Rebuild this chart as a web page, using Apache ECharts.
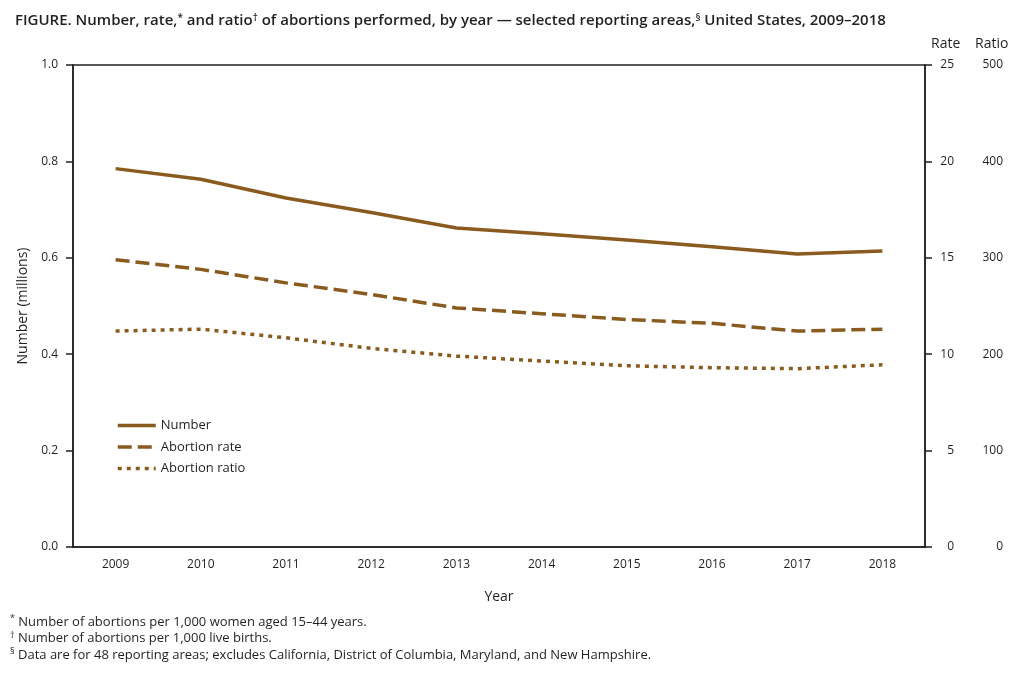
<!DOCTYPE html>
<html>
<head>
<meta charset="utf-8">
<script src="https://cdn.jsdelivr.net/npm/echarts@6/dist/echarts.min.js"></script>
<style>
  html, body { margin: 0; padding: 0; background: #fff; }
  #chart { width: 1024px; height: 678px; }
</style>
</head>
<body>
<div id="chart"></div>
<script>
const years = ["2009", "2010", "2011", "2012", "2013", "2014", "2015", "2016", "2017", "2018"];
// number of abortions, millions
const numberVals = [0.785, 0.763, 0.724, 0.694, 0.662, 0.650, 0.637, 0.623, 0.608, 0.614];
// abortions per 1,000 women aged 15-44
const rateVals = [14.9, 14.4, 13.7, 13.1, 12.4, 12.1, 11.8, 11.6, 11.2, 11.3];
// abortions per 1,000 live births
const ratioVals = [224, 226, 217, 206, 198, 193, 188, 186, 185, 189];

const leftTicks = { min: 0, max: 1.0, interval: 0.2 };
const rateTicks = { min: 0, max: 25, interval: 5 };
const ratioTicks = { min: 0, max: 500, interval: 100 };

const brown = "#8a5b1f";
const ink = "#231f20";
const font = "Open Sans";

const chart = echarts.init(document.getElementById("chart"));

const option = {
  backgroundColor: "#fff",
  textStyle: { fontFamily: font, color: ink },
  animation: false,
  title: {
    left: 10,
    top: 1,
    text: "{b|FIGURE. Number, rate,}{s|*}{b| and ratio}{s|†}{b| of abortions performed, by year — selected reporting areas,}{s|§}{b| United States, 2009–2018}",
    textStyle: {
      rich: {
        b: { fontFamily: font, fontSize: 15, fontWeight: 600, color: ink, verticalAlign: "bottom", lineHeight: 22 },
        s: { fontFamily: font, fontSize: 10, fontWeight: 600, color: ink, verticalAlign: "bottom", lineHeight: 22, padding: [0, 0, 5, 0] },
      },
    },
  },
  grid: {
    left: 73,
    right: 99,
    top: 65,
    bottom: 131,
    show: true,
    borderColor: ink,
    borderWidth: 1.5,
    backgroundColor: "transparent",
  },
  legend: {
    orient: "vertical",
    left: 116,
    top: 419,
    padding: 0,
    itemWidth: 38,
    itemHeight: 14,
    itemGap: 8.5,
    textStyle: { fontFamily: font, fontSize: 13, color: ink },
    itemStyle: { opacity: 0 },
    lineStyle: { width: "inherit", type: "inherit" },
    data: ["Number", "Abortion rate", "Abortion ratio"],
  },
  xAxis: {
    type: "category",
    data: years,
    name: "Year",
    nameLocation: "middle",
    nameGap: 43,
    nameTextStyle: { fontSize: 14, color: ink },
    axisLine: { lineStyle: { color: ink, width: 1.5 } },
    axisTick: { alignWithLabel: true, length: 7, lineStyle: { color: ink, width: 1.5 } },
    axisLabel: { fontSize: 12, color: ink, margin: 12 },
    splitLine: { show: false },
  },
  yAxis: [
    {
      type: "value",
      position: "left",
      min: leftTicks.min,
      max: leftTicks.max,
      interval: leftTicks.interval,
      name: "Number (millions)",
      nameLocation: "middle",
      nameGap: 38,
      nameTextStyle: { fontSize: 14, color: ink },
      axisLine: { show: true, lineStyle: { color: ink, width: 1.5 } },
      axisTick: { show: true, length: 7, lineStyle: { color: ink, width: 1.5 } },
      axisLabel: { fontSize: 12, color: ink, margin: 15, formatter: (v) => v.toFixed(1) },
      splitLine: { show: false },
    },
    {
      type: "value",
      position: "right",
      min: rateTicks.min,
      max: rateTicks.max,
      interval: rateTicks.interval,
      axisLine: { show: true, lineStyle: { color: ink, width: 1.5 } },
      axisTick: { show: true, length: 7, lineStyle: { color: ink, width: 1.5 } },
      axisLabel: { fontSize: 12, color: ink, margin: 29, align: "right" },
      splitLine: { show: false },
    },
    {
      type: "value",
      position: "right",
      min: ratioTicks.min,
      max: ratioTicks.max,
      interval: ratioTicks.interval,
      axisLine: { show: false },
      axisTick: { show: false },
      axisLabel: { fontSize: 12, color: ink, margin: 78, align: "right" },
      splitLine: { show: false },
    },
  ],
  series: [
    {
      name: "Number",
      type: "line",
      yAxisIndex: 0,
      data: numberVals,
      symbol: "none",
      itemStyle: { color: brown },
      lineStyle: { color: brown, width: 3.5 },
    },
    {
      name: "Abortion rate",
      type: "line",
      yAxisIndex: 1,
      data: rateVals,
      symbol: "none",
      itemStyle: { color: brown },
      lineStyle: { color: brown, width: 3.5, type: [14, 6] },
    },
    {
      name: "Abortion ratio",
      type: "line",
      yAxisIndex: 2,
      data: ratioVals,
      symbol: "none",
      itemStyle: { color: brown },
      lineStyle: { color: brown, width: 3.5, type: [4, 5] },
    },
  ],
  graphic: [
    { type: "text", left: 931, top: 37, style: { text: "Rate", font: `14px "${font}"`, fill: ink } },
    { type: "text", left: 975, top: 37, style: { text: "Ratio", font: `14px "${font}"`, fill: ink } },
    {
      type: "text",
      left: 10,
      top: 614,
      style: {
        text: "{s|*} Number of abortions per 1,000 women aged 15–44 years.\n{s|†} Number of abortions per 1,000 live births.\n{s|§} Data are for 48 reporting areas; excludes California, District of Columbia, Maryland, and New Hampshire.",
        font: `13px "${font}"`,
        fill: ink,
        lineHeight: 16.5,
        rich: {
          s: { fontSize: 9, fontFamily: font, fill: ink, verticalAlign: "top", lineHeight: 16.5 },
        },
      },
    },
  ],
};

chart.setOption(option);
window.addEventListener("resize", () => chart.resize());
</script>
</body>
</html>
